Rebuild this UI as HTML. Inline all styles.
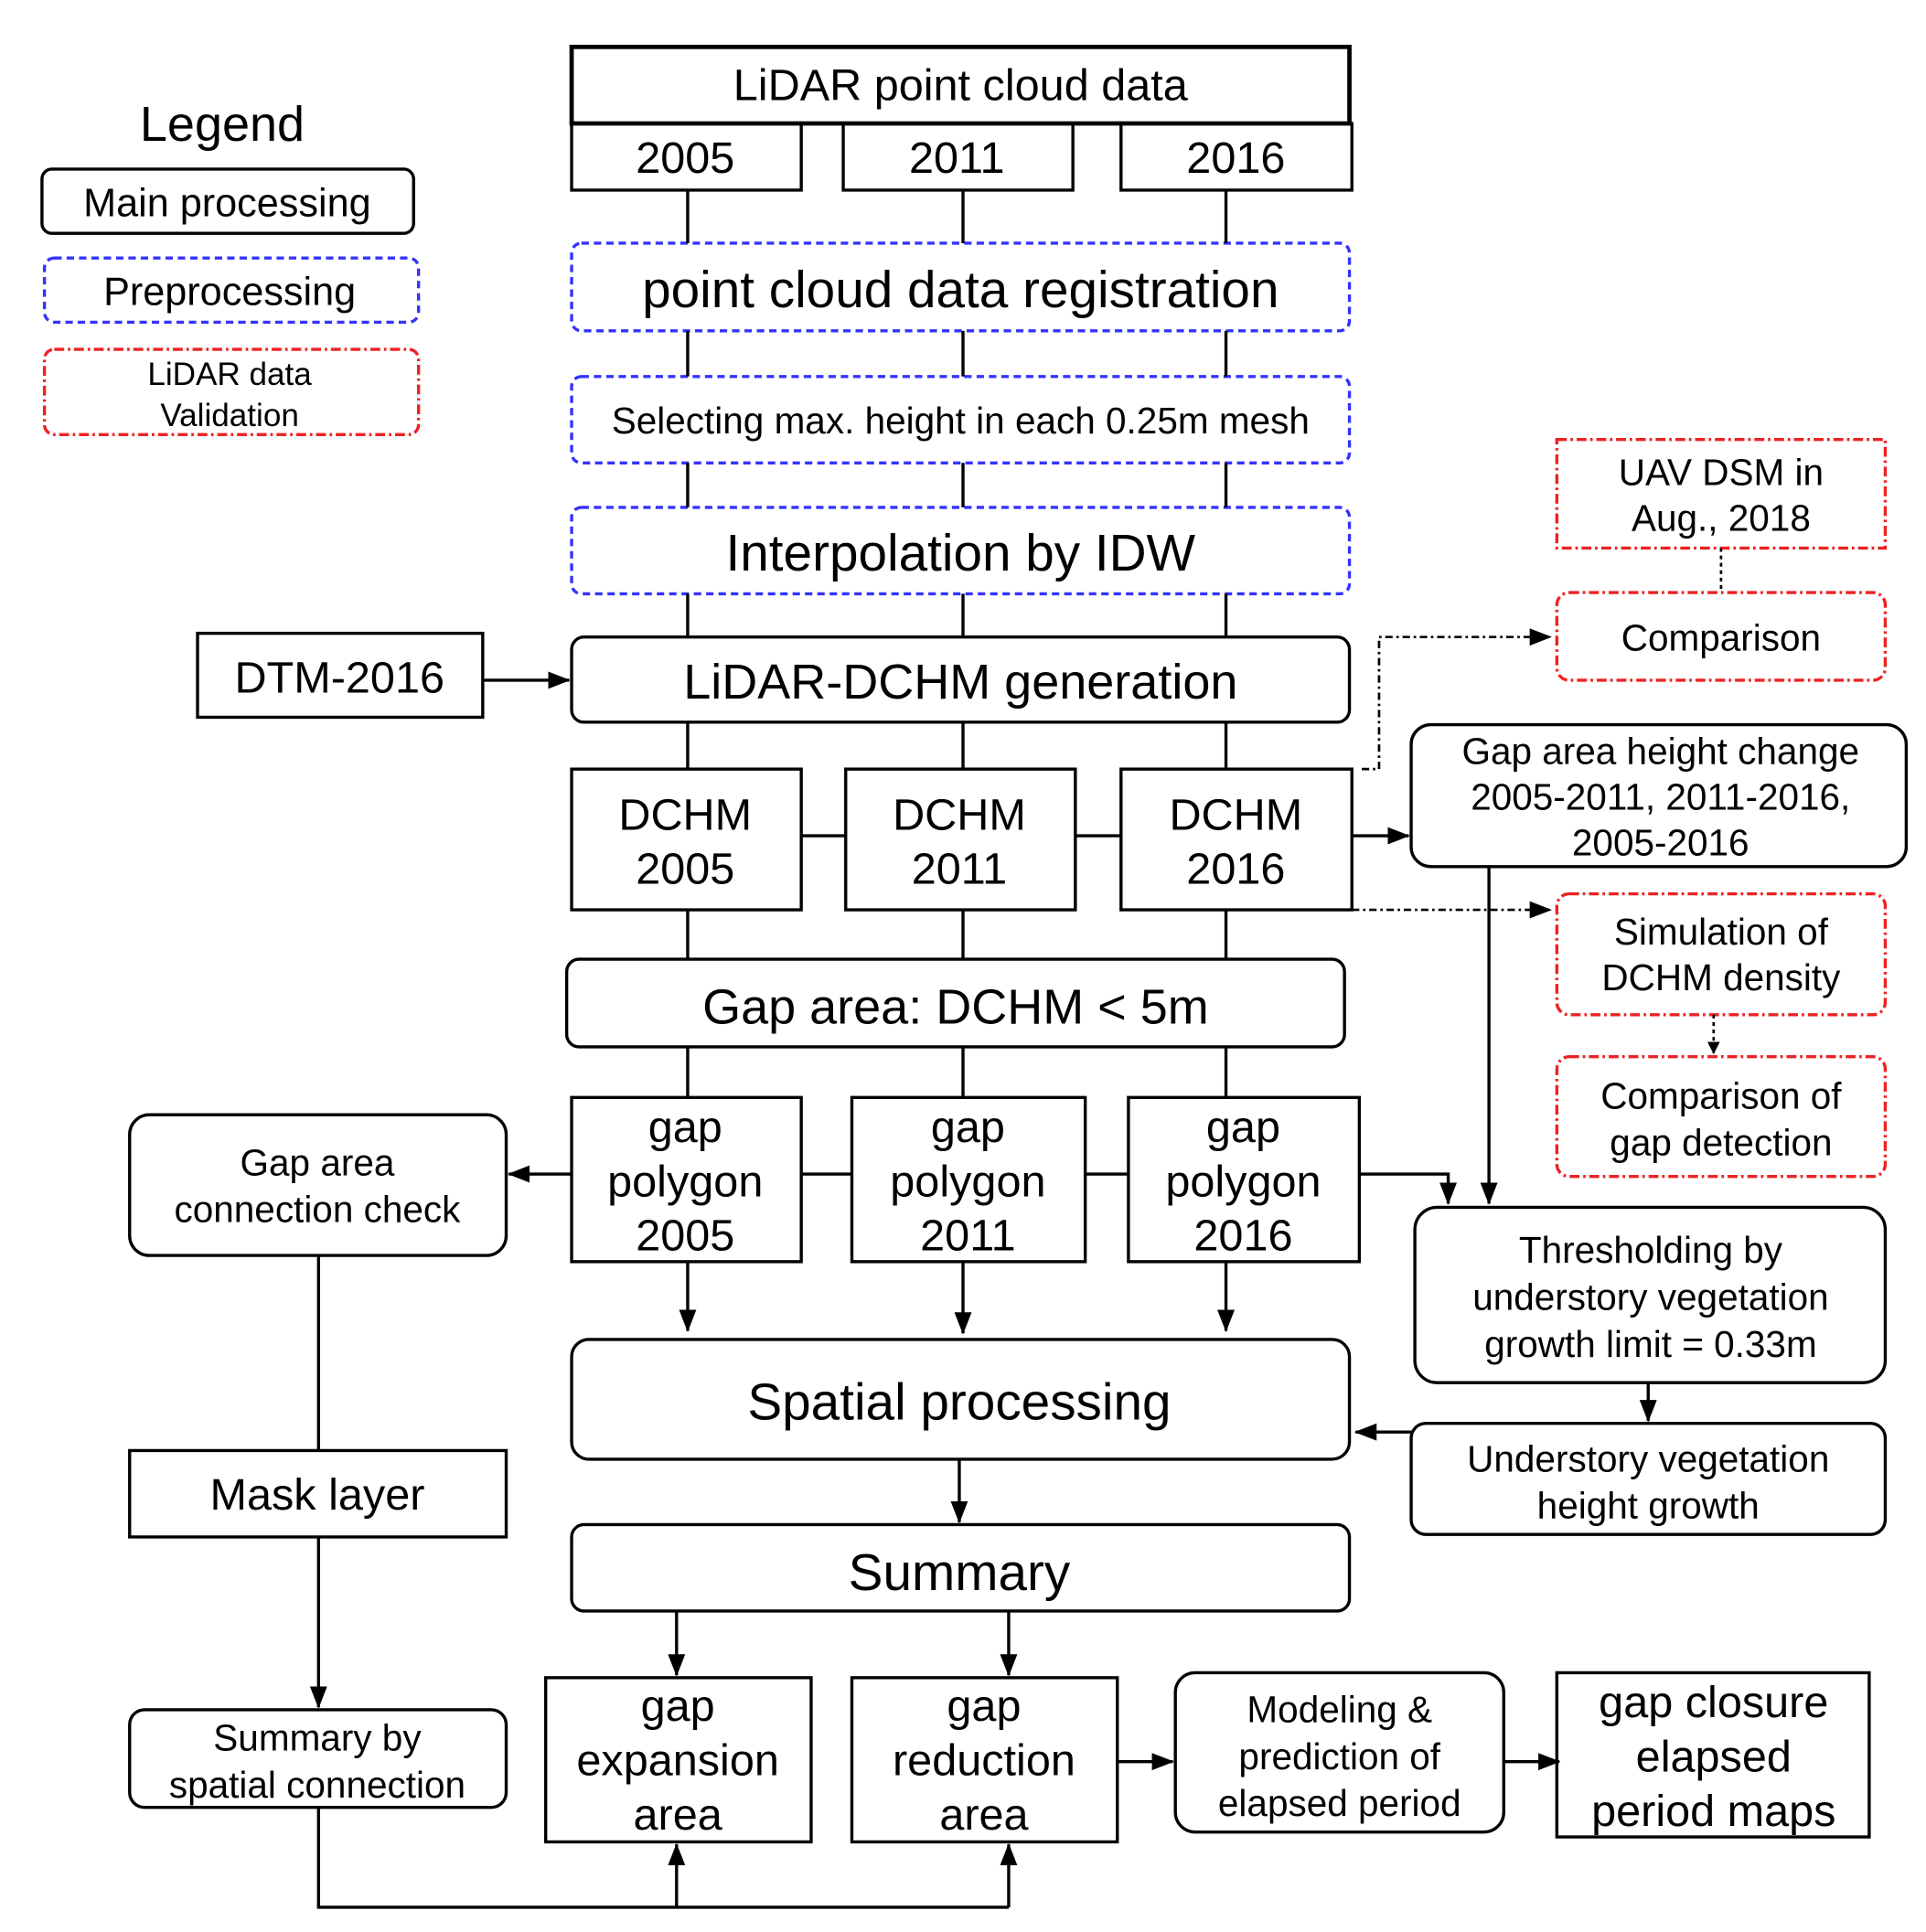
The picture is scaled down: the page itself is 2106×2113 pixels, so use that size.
<!DOCTYPE html>
<html><head><meta charset="utf-8"><style>html,body{margin:0;padding:0;background:#fff}svg{display:block}</style></head><body>
<svg xmlns="http://www.w3.org/2000/svg" width="2106" height="2113" viewBox="0 0 1560 1565" preserveAspectRatio="none" font-family="Liberation Sans, sans-serif" text-anchor="middle">
<defs><marker id="a" markerWidth="10" markerHeight="10" refX="9" refY="5" orient="auto" markerUnits="userSpaceOnUse" viewBox="0 0 10 10"><path d="M0,0L10,5L0,10z" fill="#000"/></marker>
<marker id="b" markerWidth="18" markerHeight="18" refX="17" refY="9" orient="auto" markerUnits="userSpaceOnUse" viewBox="0 0 18 18"><path d="M0,2L18,9L0,16z" fill="#000"/></marker></defs>
<g fill="none" stroke="#000" stroke-width="2.5">
<rect x="34" y="137" width="301" height="52" rx="8"/>
<rect x="36" y="209" width="303" height="52" rx="8" stroke="#33f" stroke-dasharray="6,4"/>
<rect x="36" y="283" width="303" height="69" rx="8" stroke="#e22" stroke-dasharray="8,3,2,3"/>
<rect x="463" y="38" width="630" height="62" stroke-width="3.5"/>
<rect x="463" y="100" width="186" height="54"/><rect x="683" y="100" width="186" height="54"/><rect x="908" y="100" width="187" height="54"/>
<rect x="463" y="197" width="630" height="71" rx="8" stroke="#33f" stroke-dasharray="6,4"/>
<rect x="463" y="305" width="630" height="70" rx="8" stroke="#33f" stroke-dasharray="6,4"/>
<rect x="463" y="411" width="630" height="70" rx="8" stroke="#33f" stroke-dasharray="6,4"/>
<rect x="160" y="513" width="231" height="68"/>
<rect x="463" y="516" width="630" height="69" rx="10"/>
<rect x="463" y="623" width="186" height="114"/><rect x="685" y="623" width="186" height="114"/><rect x="908" y="623" width="187" height="114"/>
<rect x="459" y="777" width="630" height="71" rx="10"/>
<rect x="463" y="889" width="186" height="133"/><rect x="690" y="889" width="189" height="133"/><rect x="914" y="889" width="187" height="133"/>
<rect x="105" y="903" width="305" height="114" rx="16"/>
<rect x="463" y="1085" width="630" height="97" rx="14"/>
<rect x="463" y="1235" width="630" height="70" rx="10"/>
<rect x="442" y="1359" width="215" height="133"/><rect x="690" y="1359" width="215" height="133"/>
<rect x="952" y="1355" width="266" height="129" rx="16"/>
<rect x="1261" y="1355" width="253" height="133"/>
<rect x="105" y="1175" width="305" height="70"/>
<rect x="105" y="1385" width="305" height="79" rx="12"/>
<rect x="1261" y="356" width="266" height="88" stroke="#e22" stroke-dasharray="8,3,2,3"/>
<rect x="1261" y="480" width="266" height="71" rx="10" stroke="#e22" stroke-dasharray="8,3,2,3"/>
<rect x="1143" y="587" width="401" height="115" rx="16"/>
<rect x="1261" y="724" width="266" height="98" rx="10" stroke="#e22" stroke-dasharray="8,3,2,3"/>
<rect x="1261" y="856" width="266" height="97" rx="10" stroke="#e22" stroke-dasharray="8,3,2,3"/>
<rect x="1146" y="978" width="381" height="142" rx="18"/>
<rect x="1143" y="1153" width="384" height="90" rx="12"/>
<!-- vertical connectors -->
<path d="M557 154V197M780 154V197M993 154V197M557 268V305M780 268V305M993 268V305M557 375V411M780 375V411M993 375V411M557 481V516M780 481V516M993 481V516M557 585V623M780 585V623M993 585V623M649 677H685M871 677H908M557 737V777M780 737V777M993 737V777M557 848V889M780 848V889M993 848V889M649 951H690M879 951H914"/>
<g stroke-width="2.5" marker-end="url(#b)">
<path d="M391 551H461"/><path d="M463 951H412"/>
<path d="M557 1022V1078"/><path d="M780 1022V1080"/><path d="M993 1022V1078"/>
<path d="M777 1182V1233"/><path d="M548 1305V1357"/><path d="M817 1305V1357"/>
<path d="M905 1427H950"/><path d="M1218 1427H1263"/>
<path d="M258 1245V1383"/>
<path d="M548 1545V1494"/><path d="M817 1545V1494"/>
<path d="M1095 677H1141"/><path d="M1206 702V975"/><path d="M1101 951H1173V975"/>
<path d="M1335 1120V1151"/><path d="M1143 1160H1098"/>
</g>
<path d="M258 1017V1175M258 1464V1545H817"/>
<path d="M1103 623H1117V516H1256" stroke-width="2" stroke-dasharray="6,3,2,3" marker-end="url(#b)"/>
<path d="M1095 737H1256" stroke-width="2" stroke-dasharray="6,3,2,3" marker-end="url(#b)"/>
<path d="M1394 444V480" stroke-width="2" stroke-dasharray="3,3"/>
<path d="M1388 822V853" stroke-width="2" stroke-dasharray="3,3" marker-end="url(#a)"/>
</g>
<g fill="#000">
<text x="180" y="114" font-size="40">Legend</text>
<text x="184" y="175" font-size="32">Main  processing</text>
<text x="186" y="247" font-size="32">Preprocessing</text>
<text x="186" y="312" font-size="26">LiDAR data</text><text x="186" y="345" font-size="26">Validation</text>
<text x="778" y="81" font-size="36">LiDAR point cloud data</text>
<text x="555" y="140" font-size="36">2005</text><text x="775" y="140" font-size="36">2011</text><text x="1001" y="140" font-size="36">2016</text>
<text x="778" y="249" font-size="42">point cloud data registration</text>
<text x="778" y="351" font-size="30">Selecting max. height in each 0.25m mesh</text>
<text x="778" y="462" font-size="42">Interpolation by IDW</text>
<text x="275" y="561" font-size="36">DTM-2016</text>
<text x="778" y="566" font-size="40">LiDAR-DCHM generation</text>
<text x="555" y="672" font-size="36">DCHM</text><text x="555" y="716" font-size="36">2005</text>
<text x="777" y="672" font-size="36">DCHM</text><text x="777" y="716" font-size="36">2011</text>
<text x="1001" y="672" font-size="36">DCHM</text><text x="1001" y="716" font-size="36">2016</text>
<text x="774" y="829" font-size="40">Gap area: DCHM  &lt;  5m</text>
<text x="555" y="925" font-size="36">gap</text><text x="555" y="969" font-size="36">polygon</text><text x="555" y="1013" font-size="36">2005</text>
<text x="784" y="925" font-size="36">gap</text><text x="784" y="969" font-size="36">polygon</text><text x="784" y="1013" font-size="36">2011</text>
<text x="1007" y="925" font-size="36">gap</text><text x="1007" y="969" font-size="36">polygon</text><text x="1007" y="1013" font-size="36">2016</text>
<text x="257" y="952" font-size="30">Gap area</text><text x="257" y="990" font-size="30">connection check</text>
<text x="777" y="1150" font-size="42">Spatial processing</text>
<text x="777" y="1288" font-size="42">Summary</text>
<text x="257" y="1223" font-size="36">Mask layer</text>
<text x="257" y="1418" font-size="30">Summary by</text><text x="257" y="1456" font-size="30">spatial connection</text>
<text x="549" y="1394" font-size="36">gap</text><text x="549" y="1438" font-size="36">expansion</text><text x="549" y="1482" font-size="36">area</text>
<text x="797" y="1394" font-size="36">gap</text><text x="797" y="1438" font-size="36">reduction</text><text x="797" y="1482" font-size="36">area</text>
<text x="1085" y="1395" font-size="30">Modeling &amp;</text><text x="1085" y="1433" font-size="30">prediction of</text><text x="1085" y="1471" font-size="30">elapsed period</text>
<text x="1388" y="1391" font-size="36">gap closure</text><text x="1388" y="1435" font-size="36">elapsed</text><text x="1388" y="1479" font-size="36">period maps</text>
<text x="1394" y="393" font-size="30">UAV DSM in</text><text x="1394" y="430" font-size="30">Aug., 2018</text>
<text x="1394" y="527" font-size="30">Comparison</text>
<text x="1345" y="619" font-size="30">Gap area height change</text><text x="1345" y="656" font-size="30">2005-2011, 2011-2016,</text><text x="1345" y="693" font-size="30">2005-2016</text>
<text x="1394" y="765" font-size="30">Simulation of</text><text x="1394" y="802" font-size="30">DCHM density</text>
<text x="1394" y="898" font-size="30">Comparison of</text><text x="1394" y="936" font-size="30">gap detection</text>
<text x="1337" y="1023" font-size="30">Thresholding by</text><text x="1337" y="1061" font-size="30">understory vegetation</text><text x="1337" y="1099" font-size="30">growth limit  =  0.33m</text>
<text x="1335" y="1192" font-size="30">Understory vegetation</text><text x="1335" y="1230" font-size="30">height growth</text>
</g>
</svg>
</body></html>
